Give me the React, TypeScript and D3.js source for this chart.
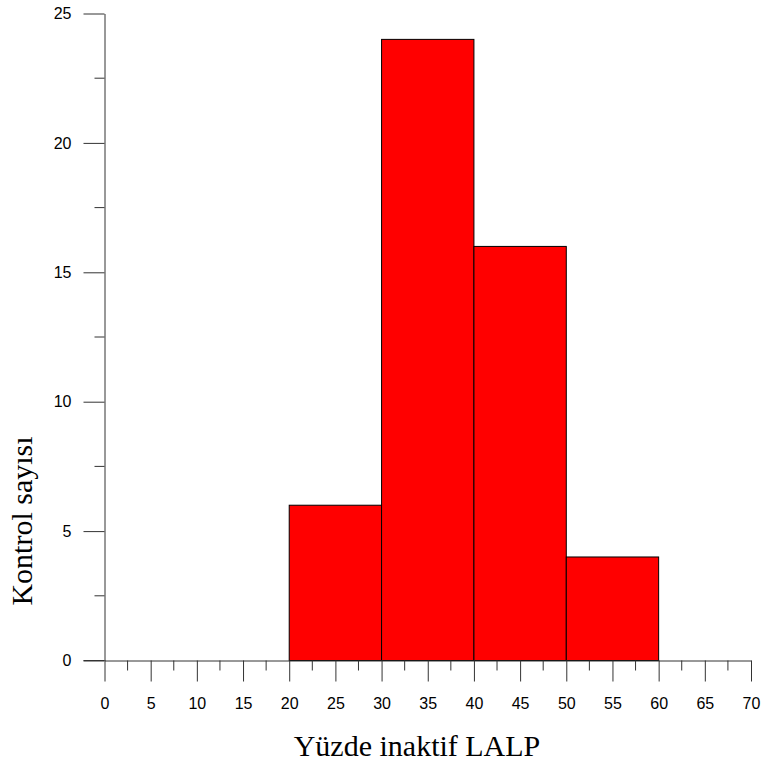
import {useEffect, useRef} from "react";
import * as d3 from "d3";

const binStarts = [20, 30, 40, 50];
const binEnds = [30, 40, 50, 60];
const counts = [6, 24, 16, 4];
const xTicks = [0, 5, 10, 15, 20, 25, 30, 35, 40, 45, 50, 55, 60, 65, 70];
const yTicks = [0, 5, 10, 15, 20, 25];

export default function App() {
    const ref = useRef<SVGSVGElement | null>(null);

    useEffect(() => {
        const el = ref.current;
        if(!el) return;
        const svg = d3.select(el);
        svg.selectAll("*").remove();

        const x = d3.scaleLinear().domain([0, 70]).range([104.5, 751]);
        const y = d3.scaleLinear().domain([0, 25]).range([660.5, 13.5]);
        const axisColor = "#333";

        // bars
        const bins = binStarts.map((s, i) => ({x0: s, x1: binEnds[i], n: counts[i]}));
        svg.append("g")
            .selectAll("rect")
            .data(bins)
            .join("rect")
            .attr("x", (d) => x(d.x0))
            .attr("y", (d) => y(d.n))
            .attr("width", (d) => x(d.x1) - x(d.x0))
            .attr("height", (d) => y(0) - y(d.n))
            .attr("fill", "#ff0000")
            .attr("stroke", "#000")
            .attr("stroke-width", 1);

        // y axis, major + minor ticks
        const yAxis = svg.append("g").attr("transform", `translate(${x(0)},0)`);
        yAxis.call(d3.axisLeft(y).tickValues(yTicks).tickSize(21).tickPadding(12).tickSizeOuter(0))
            .call((g) => g.select(".domain").attr("stroke", axisColor))
            .call((g) => g.selectAll("line").attr("stroke", axisColor))
            .call((g) => g.selectAll("text")
                .attr("fill", "#000")
                .attr("font-size", 16)
                .attr("font-family", "Liberation Sans, Arial, sans-serif"));
        yAxis.append("g")
            .selectAll("line")
            .data(d3.range(2.5, 25, 5))
            .join("line")
            .attr("x1", -10)
            .attr("x2", 0)
            .attr("y1", (d) => y(d))
            .attr("y2", (d) => y(d))
            .attr("stroke", axisColor);

        // x axis, major + minor ticks
        const xAxis = svg.append("g").attr("transform", `translate(0,${y(0)})`);
        xAxis.call(d3.axisBottom(x).tickValues(xTicks).tickSize(21).tickPadding(16).tickSizeOuter(0))
            .call((g) => g.select(".domain").attr("stroke", axisColor))
            .call((g) => g.selectAll("line").attr("stroke", axisColor))
            .call((g) => g.selectAll("text")
                .attr("fill", "#000")
                .attr("font-size", 16)
                .attr("font-family", "Liberation Sans, Arial, sans-serif"));
        xAxis.append("g")
            .selectAll("line")
            .data(d3.range(2.5, 70, 5))
            .join("line")
            .attr("x1", (d) => x(d))
            .attr("x2", (d) => x(d))
            .attr("y1", 0)
            .attr("y2", 10)
            .attr("stroke", axisColor);

        // y axis stub left of the zero line
        svg.append("line")
            .attr("x1", x(0) - 21)
            .attr("x2", x(0))
            .attr("y1", y(0))
            .attr("y2", y(0))
            .attr("stroke", axisColor);

        // titles
        svg.append("text")
            .attr("x", 417)
            .attr("y", 756)
            .attr("text-anchor", "middle")
            .attr("font-family", "Liberation Serif, Times New Roman, serif")
            .attr("font-size", 30)
            .text("Yüzde inaktif LALP");

        svg.append("text")
            .attr("transform", "translate(32,521) rotate(-90)")
            .attr("text-anchor", "middle")
            .attr("font-family", "Liberation Serif, Times New Roman, serif")
            .attr("font-size", 30)
            .text("Kontrol sayısı");
    }, []);

    return (
        <svg
            ref={ref}
            width={761}
            height={767}
            style={{position: "absolute", left: 0, top: 0, background: "#fff"}}
        />
    );
}
